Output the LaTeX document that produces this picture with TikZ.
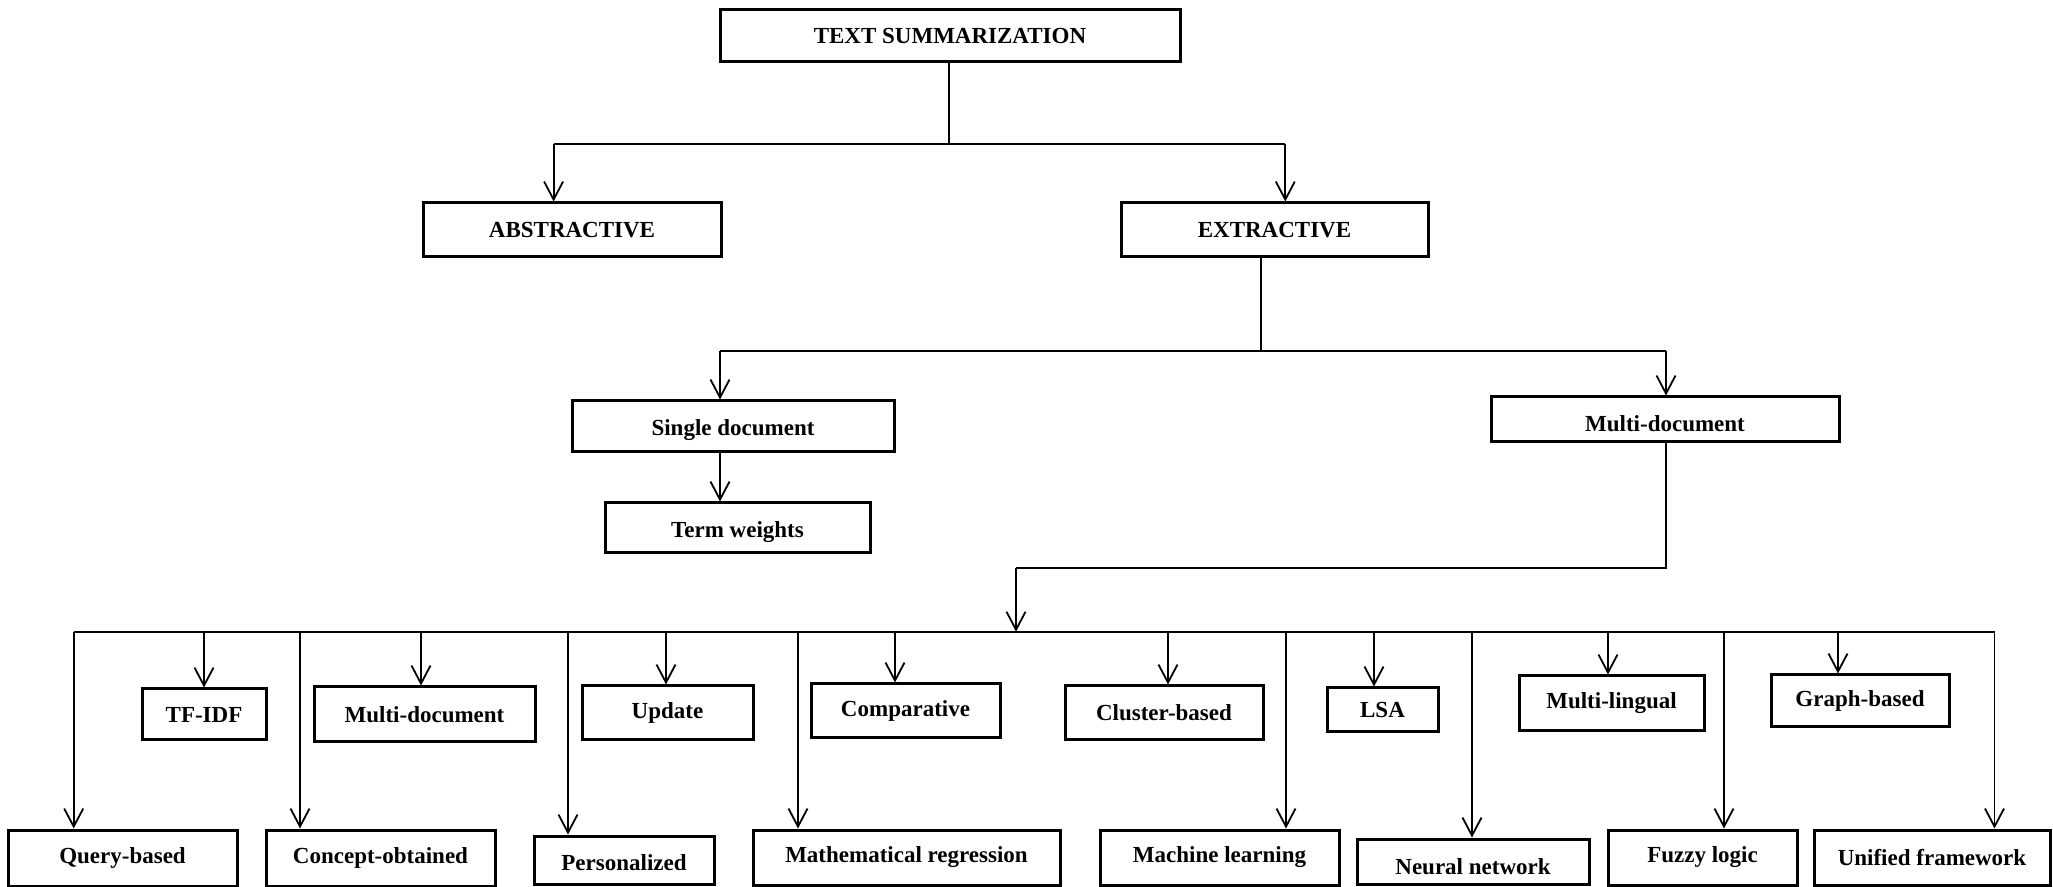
\documentclass[tikz,border=0pt]{standalone}
\usepackage{fontspec}
\setmainfont{Liberation Serif}
\usetikzlibrary{arrows.meta}
\newcommand{\lowertext}[2]{\raisebox{-#1}[\height][\depth]{#2}}
\begin{document}
\begin{tikzpicture}[x=0.5pt,y=-0.5pt,
  box/.style={draw, line width=1.5pt, inner sep=0pt, align=center,
    font=\fontsize{11.5}{13}\selectfont\bfseries},
  conn/.style={line width=0.9pt},
  arr/.style={conn, -{Straight Barb[length=9pt,width=9.5pt]}}]
\useasboundingbox (0,0) rectangle (2053,887);
% top levels
\node[box, minimum width=230pt, minimum height=26pt] (ts) at (950,36) {TEXT SUMMARIZATION};
\node[box, minimum width=149pt, minimum height=27pt] (abs) at (572,230) {ABSTRACTIVE};
\node[box, minimum width=153.5pt, minimum height=27pt] (ext) at (1274.5,230) {EXTRACTIVE};
\node[box, minimum width=161pt, minimum height=25.5pt] (single) at (733,426.5) {\lowertext{2pt}{Single document}};
\node[box, minimum width=132.5pt, minimum height=25pt] (term) at (737.5,528) {\lowertext{2pt}{Term weights}};
\node[box, minimum width=174pt, minimum height=22.5pt] (multi) at (1665,419.5) {\lowertext{2pt}{Multi-document}};
% upper row of leaves
\node[box, minimum width=62pt, minimum height=25.5pt] (tfidf) at (204,714.5) {TF-IDF};
\node[box, minimum width=110.5pt, minimum height=27.5pt] (multi2) at (424.5,714.5) {Multi-document};
\node[box, minimum width=85.5pt, minimum height=27pt] (update) at (667.5,713) {Update};
\node[box, minimum width=94.5pt, minimum height=27pt] (comp) at (905.5,711) {Comparative};
\node[box, minimum width=99pt, minimum height=27pt] (cluster) at (1164,713) {Cluster-based};
\node[box, minimum width=55.5pt, minimum height=22pt] (lsa) at (1382.5,710) {LSA};
\node[box, minimum width=92.5pt, minimum height=27.5pt] (mling) at (1611.5,703.5) {Multi-lingual};
\node[box, minimum width=89pt, minimum height=26pt] (graph) at (1860,701) {Graph-based};
% lower row of leaves
\node[box, minimum width=114.5pt, minimum height=28pt] (query) at (122.5,858) {Query-based};
\node[box, minimum width=114.5pt, minimum height=28pt] (concept) at (380.5,858) {Concept-obtained};
\node[box, minimum width=90pt, minimum height=24pt] (pers) at (624,860) {\lowertext{1.5pt}{Personalized}};
\node[box, minimum width=153.5pt, minimum height=27.5pt] (math) at (906.5,857.5) {Mathematical regression};
\node[box, minimum width=119.5pt, minimum height=27.5pt] (ml) at (1219.5,857.5) {Machine learning};
\node[box, minimum width=116pt, minimum height=22.5pt] (nn) at (1473,861.5) {\lowertext{2.5pt}{Neural network}};
\node[box, minimum width=94.5pt, minimum height=27.5pt] (fuzzy) at (1702.5,857.5) {Fuzzy logic};
\node[box, minimum width=118pt, minimum height=27.5pt] (unified) at (1932,857.5) {Unified framework};
% connectors: level 1
\coordinate (j1) at (949,144);
\coordinate (j1L) at (553.6,144);
\coordinate (j1R) at (1285.3,144);
\draw[conn] (ts.south -| j1) -- (j1);
\draw[conn] (j1L) -- (j1R);
\draw[arr] (j1L) -- (j1L |- abs.north);
\draw[arr] (j1R) -- (j1R |- ext.north);
% level 2
\coordinate (j2) at (1261,350.7);
\coordinate (j2L) at (720,350.7);
\coordinate (j2R) at (1666,350.7);
\draw[conn] (ext.south -| j2) -- (j2);
\draw[conn] (j2L) -- (j2R);
\draw[arr] (j2L) -- (j2L |- single.north);
\draw[arr] (j2R) -- (j2R |- multi.north);
\draw[arr] (single.south -| j2L) -- (term.north -| j2L);
% multi-document to bus
\coordinate (j3R) at (1666,568);
\coordinate (j3L) at (1016,568);
\coordinate (busL) at (73.7,631.7);
\coordinate (busR) at (1994.5,631.7);
\draw[conn] (multi.south -| j3R) -- (j3R) -- (j3L);
\draw[arr] (j3L) -- (j3L |- busL);
\draw[conn] (busL) -- (busR);
% bus drops
\foreach \x/\n in {73.7/query, 204/tfidf, 300/concept, 421/multi2, 568/pers,
  666/update, 798/math, 895/comp, 1168/cluster, 1286/ml, 1374/lsa,
  1472/nn, 1608/mling, 1724/fuzzy, 1838/graph, 1994.5/unified}
  \draw[arr] (\x,631.7) -- (\x,0 |- \n.north);
\end{tikzpicture}
\end{document}
